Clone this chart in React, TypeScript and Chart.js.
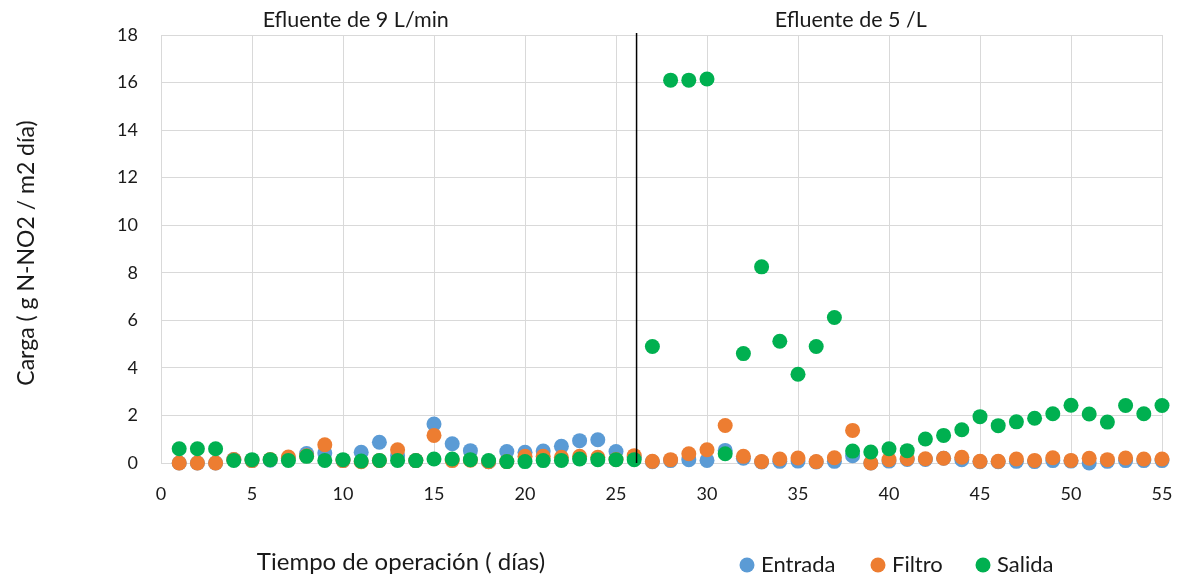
import React, { useEffect, useRef } from "react";
import { Chart, registerables } from "chart.js";

Chart.register(...registerables);

const days: number[] = Array.from({ length: 55 }, (_, i) => i + 1);

const entrada: number[] = [
  0, 0, 0, 0.15, 0.1, 0.12, 0.2, 0.4, 0.42, 0.1,
  0.45, 0.87, 0.3, 0.1, 1.64, 0.81, 0.52, 0.05, 0.48, 0.45,
  0.5, 0.7, 0.94, 0.98, 0.48, 0.25, 0.05, 0.1, 0.14, 0.11,
  0.53, 0.2, 0.04, 0.07, 0.08, 0.04, 0.07, 0.31, 0.0, 0.08,
  0.15, 0.15, 0.2, 0.14, 0.05, 0.05, 0.07, 0.06, 0.1, 0.08,
  0.0, 0.07, 0.1, 0.1, 0.1,
];

const filtro: number[] = [
  0, 0, 0, 0.15, 0.1, 0.15, 0.25, 0.3, 0.77, 0.1,
  0.05, 0.1, 0.56, 0.1, 1.16, 0.1, 0.12, 0.05, 0.06, 0.28,
  0.28, 0.24, 0.28, 0.24, 0.15, 0.31, 0.07, 0.14, 0.39, 0.56,
  1.58, 0.28, 0.06, 0.17, 0.21, 0.06, 0.22, 1.37, 0.0, 0.14,
  0.18, 0.18, 0.2, 0.24, 0.07, 0.07, 0.17, 0.11, 0.22, 0.11,
  0.2, 0.14, 0.21, 0.17, 0.17,
];

const salida: number[] = [
  0.6, 0.6, 0.6, 0.11, 0.14, 0.14, 0.11, 0.28, 0.11, 0.14,
  0.08, 0.11, 0.11, 0.1, 0.17, 0.17, 0.14, 0.1, 0.06, 0.06,
  0.1, 0.11, 0.17, 0.14, 0.14, 0.14, 4.9, 16.1, 16.1, 16.15,
  0.39, 4.6, 8.25, 5.12, 3.73, 4.9, 6.12, 0.5, 0.46, 0.6,
  0.52, 1.01, 1.16, 1.4, 1.95, 1.57, 1.73, 1.88, 2.07, 2.43,
  2.06, 1.72, 2.42, 2.07, 2.42,
];

const seriesNames: string[] = ["Entrada", "Filtro", "Salida"];
const seriesColors: string[] = ["#5B9BD5", "#ED7D31", "#00B050"];
const dividerDay = 26.13;
const periodLabels: { text: string; day: number }[] = [
  { text: "Efluente de 9 L/min", day: 10.7 },
  { text: "Efluente de 5 /L", day: 37.9 },
];
const xTitle = "Tiempo de operación ( días)";
const yTitle = "Carga ( g N-NO2 / m2 día)";

const FONT = "Lato, 'Open Sans', sans-serif";
const TEXT = "#1a1a1a";

export default function App() {
  const ref = useRef<HTMLCanvasElement | null>(null);

  useEffect(() => {
    document.body.style.margin = "0";
    const canvas = ref.current;
    if (!canvas) return;

    const toPts = (arr: number[]) => arr.map((v, i) => ({ x: days[i], y: v }));
    const values = [entrada, filtro, salida];

    const decor = {
      id: "decor",
      afterDatasetsDraw(chart: any) {
        const ctx = chart.ctx as CanvasRenderingContext2D;
        const xs = chart.scales.x;
        const ys = chart.scales.y;
        ctx.save();
        // divider line
        const lx = xs.getPixelForValue(dividerDay);
        ctx.strokeStyle = "#000";
        ctx.lineWidth = 1.5;
        ctx.beginPath();
        ctx.moveTo(lx, ys.getPixelForValue(18) - 2);
        ctx.lineTo(lx, ys.getPixelForValue(0));
        ctx.stroke();
        // period labels
        ctx.fillStyle = TEXT;
        ctx.font = `21.5px ${FONT}`;
        ctx.textAlign = "center";
        ctx.textBaseline = "middle";
        periodLabels.forEach((p) => {
          ctx.fillText(p.text, xs.getPixelForValue(p.day), 20);
        });
        // x title
        ctx.font = `24px ${FONT}`;
        ctx.fillText(xTitle, 401, 562);
        // y title
        ctx.save();
        ctx.translate(27, 253);
        ctx.rotate(-Math.PI / 2);
        ctx.font = `23px ${FONT}`;
        ctx.fillText(yTitle, 0, 0);
        ctx.restore();
        // legend
        ctx.font = `22px ${FONT}`;
        ctx.textAlign = "left";
        const legendX = [747, 878, 983];
        chart.data.datasets.forEach((ds: any, i: number) => {
          const cx = legendX[i];
          ctx.fillStyle = ds.backgroundColor;
          ctx.beginPath();
          ctx.arc(cx, 565, 7.5, 0, Math.PI * 2);
          ctx.fill();
          ctx.fillStyle = TEXT;
          ctx.fillText(ds.label, cx + 14, 565);
        });
        ctx.restore();
      },
    };

    const chart = new Chart(canvas, {
      type: "scatter",
      data: {
        datasets: seriesNames.map((name, i) => ({
          label: name,
          data: toPts(values[i]),
          backgroundColor: seriesColors[i],
          borderColor: seriesColors[i],
          borderWidth: 0,
          pointRadius: 7.5,
          pointHoverRadius: 7.5,
          order: 3 - i,
          clip: false as any,
        })),
      },
      options: {
        animation: false,
        responsive: false,
        maintainAspectRatio: false,
        layout: { padding: { left: 0, right: 18, top: 35, bottom: 0 } },
        plugins: {
          legend: { display: false },
          tooltip: { enabled: false },
        },
        scales: {
          x: {
            type: "linear",
            min: 0,
            max: 55,
            ticks: {
              stepSize: 5,
              font: { family: FONT, size: 18 },
              color: TEXT,
              padding: 20,
              maxRotation: 0,
            },
            grid: { color: "#d9d9d9", lineWidth: 1, drawTicks: false },
            border: { color: "#d9d9d9", width: 1 },
            afterFit: (s: any) => {
              s.height = 116;
              s.paddingLeft = 0;
              s.paddingRight = 0;
            },
          },
          y: {
            min: 0,
            max: 18,
            ticks: {
              stepSize: 2,
              font: { family: FONT, size: 18 },
              color: TEXT,
              padding: 23,
            },
            grid: { color: "#d9d9d9", lineWidth: 1, drawTicks: false },
            border: { color: "#d9d9d9", width: 1 },
            afterFit: (s: any) => {
              s.width = 161;
              s.paddingTop = 0;
              s.paddingBottom = 0;
            },
          },
        },
      },
      plugins: [decor],
    });

    return () => chart.destroy();
  }, []);

  return (
    <div style={{ width: 1180, height: 579 }}>
      <canvas ref={ref} width={1180} height={579} />
    </div>
  );
}
